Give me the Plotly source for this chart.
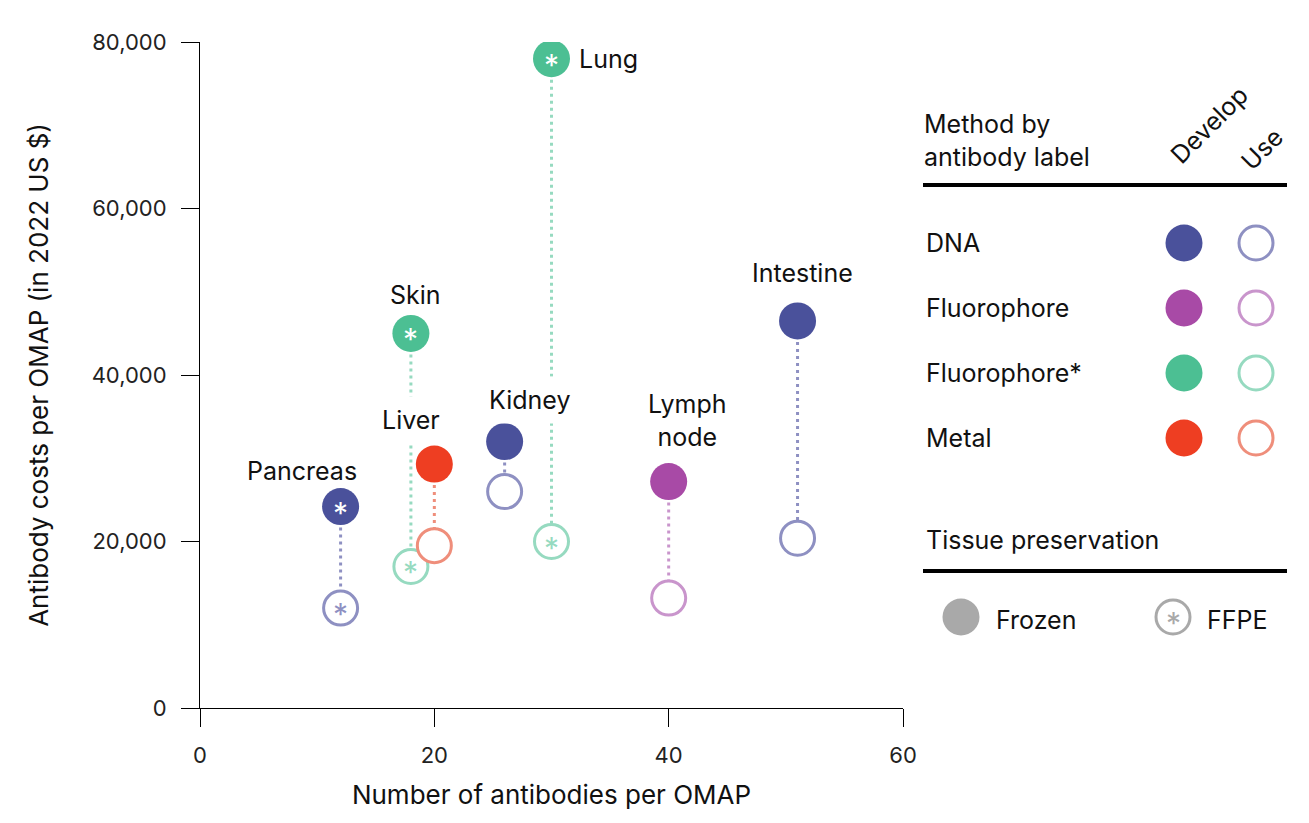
import plotly.graph_objects as go

# --- data ---
tissues = ['Pancreas', 'Skin', 'Liver', 'Kidney', 'Lung', 'Lymph<br>node', 'Intestine']
n_antibodies = [12, 18, 20, 26, 30, 40, 51]
cost_develop = [24200, 45000, 29300, 32000, 78000, 27200, 46500]
cost_use = [12000, 17000, 19500, 26000, 20000, 13200, 20400]
antibody_label = ['DNA', 'Fluorophore*', 'Metal', 'DNA', 'Fluorophore*', 'Fluorophore', 'DNA']
preservation = ['FFPE', 'FFPE', 'Frozen', 'Frozen', 'FFPE', 'Frozen', 'Frozen']

legend_methods = ['DNA', 'Fluorophore', 'Fluorophore*', 'Metal']
x_ticks = [0, 20, 40, 60]
y_ticks = [0, 20000, 40000, 60000, 80000]

# --- styling ---
FONT = 'Inter'
dark = {'DNA': '#4a519b', 'Fluorophore': '#a84aa6', 'Fluorophore*': '#4cbf93', 'Metal': '#ee3e22'}
light = {'DNA': '#8e90c2', 'Fluorophore': '#c995cc', 'Fluorophore*': '#96dac0', 'Metal': '#ef8e7b'}
GREY = '#a9a9a9'
MSIZE = 36
TXT = dict(family=FONT, size=25, color='#111111')
TITLE = dict(family=FONT, size=26, color='#111111')

# label offsets (px) relative to the "develop" marker: dx, dy, xanchor, padding
label_offsets = {
    'Pancreas': (-39, 36, 'center', 0), 'Skin': (5, 38, 'center', 0), 'Liver': (-23, 44, 'center', 8),
    'Kidney': (25, 42, 'center', 8), 'Lung': (26, 0, 'left', 0), 'Lymph<br>node': (18, 61, 'center', 0),
    'Intestine': (5, 48, 'center', 0),
}

fig = go.Figure()

# dotted connectors develop -> use
for i, t in enumerate(tissues):
    fig.add_trace(go.Scatter(
        x=[n_antibodies[i], n_antibodies[i]], y=[cost_develop[i], cost_use[i]],
        mode='lines', line=dict(color=light[antibody_label[i]], width=3, dash='3px,4px'),
        hoverinfo='skip', showlegend=False,
    ))

# use (open) markers
fig.add_trace(go.Scatter(
    x=n_antibodies, y=cost_use, mode='markers', showlegend=False,
    marker=dict(size=MSIZE - 2, color='white',
                line=dict(color=[light[m] for m in antibody_label], width=3)),
    text=tissues, hovertemplate='%{text}<br>Use: $%{y:,.0f}<extra></extra>',
))
# develop (filled) markers
fig.add_trace(go.Scatter(
    x=n_antibodies, y=cost_develop, mode='markers', showlegend=False,
    marker=dict(size=MSIZE + 1, color=[dark[m] for m in antibody_label], line=dict(width=0)),
    text=tissues, hovertemplate='%{text}<br>Develop: $%{y:,.0f}<extra></extra>',
))

annotations = []
# asterisks for FFPE tissues
for i, p in enumerate(preservation):
    if p != 'FFPE':
        continue
    annotations.append(dict(x=n_antibodies[i], y=cost_develop[i], text='*', showarrow=False,
                            xanchor='center', yanchor='middle', yshift=-6,
                            font=dict(family=FONT, size=30, color='white')))
    annotations.append(dict(x=n_antibodies[i], y=cost_use[i], text='*', showarrow=False,
                            xanchor='center', yanchor='middle', yshift=-6,
                            font=dict(family=FONT, size=30, color=light[antibody_label[i]])))

# tissue names
for i, t in enumerate(tissues):
    dx, dy, anchor, pad = label_offsets[t]
    annotations.append(dict(x=n_antibodies[i], y=cost_develop[i], text=t, showarrow=False,
                            xshift=dx, yshift=dy, xanchor=anchor, yanchor='middle', align='center',
                            bgcolor='white' if pad else None, borderpad=pad, font=TXT))

# --- legend drawn on the right (screen px -> paper helpers) ---
OFF = 8  # page body margin in the browser
L, R, T, B = 200, 903, 42, 708
def px(xp):
    return (xp - L) / (R - L)
def py(yp):
    return (B - yp) / (B - T)

def note(x, y, text, anchor='left', **kw):
    return dict(xref='paper', yref='paper', x=px(x), y=py(y), text=text, showarrow=False,
                xanchor=anchor, yanchor='middle', font=kw.pop('font', TXT), **kw)

shapes = []
annotations.append(note(922, 140, 'Method by<br>antibody label', align='left'))
annotations.append(note(1209, 125, 'Develop', anchor='center', textangle=-45))
annotations.append(note(1262, 149, 'Use', anchor='center', textangle=-45))
for yline in (185, 571):
    shapes.append(dict(type='line', xref='paper', yref='paper', x0=px(923), x1=px(1287),
                       y0=py(yline), y1=py(yline), line=dict(color='black', width=4)))

def circle(cx, cy, fill, edge, w):
    r = 18.5 - w / 2
    return dict(type='circle', xref='paper', yref='paper', xsizemode='pixel', ysizemode='pixel',
                xanchor=px(cx), yanchor=py(cy), x0=-r, x1=r, y0=-r, y1=r,
                fillcolor=fill, line=dict(color=edge, width=w))

for k, m in enumerate(legend_methods):
    yrow = 243 + 65 * k
    annotations.append(note(924, yrow, m))
    shapes.append(circle(1184, yrow, dark[m], dark[m], 0))
    shapes.append(circle(1256, yrow, 'white', light[m], 3))

annotations.append(note(924, 540, 'Tissue preservation'))
shapes.append(circle(961, 617, GREY, GREY, 0))
shapes.append(circle(1173, 617, 'white', GREY, 3))
annotations.append(note(1173, 617, '*', anchor='center', yshift=-6,
                        font=dict(family=FONT, size=30, color=GREY)))
annotations.append(note(994, 620, 'Frozen'))
annotations.append(note(1205, 620, 'FFPE'))

axis_common = dict(showgrid=False, zeroline=False, showline=True, linecolor='black', linewidth=1,
                   ticks='outside', ticklen=18, tickwidth=1, tickcolor='black',
                   tickfont=dict(family=FONT, size=22, color='#222222'))

fig.update_layout(
    width=1309 - OFF, height=823 - OFF,
    margin=dict(l=L - OFF, r=1309 - R, t=T - OFF, b=823 - B),
    plot_bgcolor='white', paper_bgcolor='white',
    font=dict(family=FONT),
    showlegend=False,
    xaxis=dict(range=[0, 60], tickvals=x_ticks, ticklabelstandoff=10,
               title=dict(text='Number of antibodies per OMAP', standoff=18, font=TITLE),
               **axis_common),
    yaxis=dict(range=[0, 80000], tickvals=y_ticks, tickformat=',d', ticklabelstandoff=10,
               title=dict(text='Antibody costs per OMAP (in 2022 US $)', standoff=35, font=TITLE),
               **axis_common),
    annotations=annotations,
    shapes=shapes,
)

fig.write_html("out.html")
